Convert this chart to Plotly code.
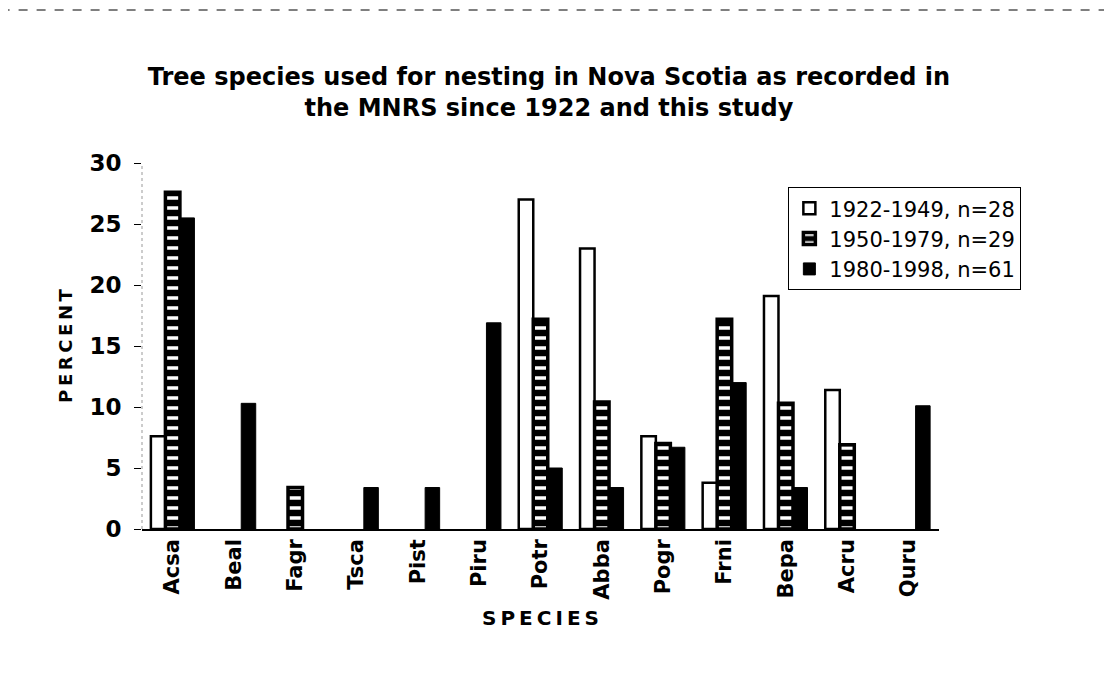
import plotly.graph_objects as go

species = ['Acsa', 'Beal', 'Fagr', 'Tsca', 'Pist', 'Piru', 'Potr', 'Abba',
           'Pogr', 'Frni', 'Bepa', 'Acru', 'Quru']
# None = species not recorded in that period (no bar drawn)
p1922 = [7.6, None, None, None, None, None, 27.0, 23.0, 7.6, 3.8, 19.1, 11.4, None]
p1950 = [27.6, None, 3.4, None, None, None, 17.2, 10.4, 7.0, 17.2, 10.3, 6.9, None]
p1980 = [25.5, 10.3, None, 3.4, 3.4, 16.9, 5.0, 3.4, 6.7, 12.0, 3.4, None, 10.1]
names = ['1922-1949, n=28', '1950-1979, n=29', '1980-1998, n=61']

font = 'DejaVu Sans, Verdana, sans-serif'
ts = '\u2009'

fig = go.Figure()

# open bars
fig.add_trace(go.Bar(
    x=species, y=p1922, name=names[0],
    marker=dict(color='white', line=dict(color='black', width=2.5)),
))
# striped bars
fig.add_trace(go.Bar(
    x=species, y=p1950, name=names[1],
    marker=dict(color='black', line=dict(color='black', width=3.5),
                pattern=dict(shape='-', bgcolor='black', fgcolor='white',
                             size=10, solidity=0.35, fillmode='replace')),
))
# solid bars
fig.add_trace(go.Bar(
    x=species, y=p1980, name=names[2],
    marker=dict(color='black', line=dict(color='black', width=1)),
))

# faint dotted y axis line, as in the scan
fig.add_shape(type='line', xref='paper', yref='paper', x0=0, x1=0,
              y0=0, y1=1, line=dict(color='#999', width=1, dash='dot'))
# scan border artefacts
fig.add_shape(type='line', xref='paper', yref='paper', x0=-0.2, x1=1.25,
              y0=1.418, y1=1.418, line=dict(color='#555', width=1.5, dash='dash'))
fig.add_shape(type='line', xref='paper', yref='paper', x0=-0.173, x1=-0.173,
              y0=-0.4, y1=1.38, line=dict(color='#aaa', width=1, dash='dot'))

fig.update_layout(
    width=1104, height=670,
    paper_bgcolor='white', plot_bgcolor='white',
    barmode='group', bargap=0.29, bargroupgap=0,
    margin=dict(l=134, r=173, t=155, b=149),
    font=dict(family=font, color='black'),
    title=dict(
        text='Tree species used for nesting in Nova Scotia as recorded in<br>the MNRS since 1922 and this study',
        x=0.49, xanchor='center', xref='container',
        y=0.885, yanchor='top', yref='container',
        font=dict(size=24, family=font, weight='bold'),
    ),
    legend=dict(
        x=0.811, y=0.934, xanchor='left', yanchor='top',
        bordercolor='black', borderwidth=1, bgcolor='white',
        font=dict(size=21, family=font),
        itemwidth=30, tracegroupgap=0,
    ),
    showlegend=True,
)

fig.update_xaxes(
    showline=True, linecolor='black', linewidth=1.5,
    tickangle=-90, ticks='',
    tickfont=dict(size=21, family=font, weight='bold'),
    title=dict(text=ts.join('SPECIES'), standoff=12,
               font=dict(size=20, family=font, weight='bold')),
)
fig.update_yaxes(
    range=[0, 30], dtick=5, showgrid=False, zeroline=False,
    showline=False,
    ticks='outside', ticklen=7, tickcolor='black', ticklabelstandoff=8,
    tickfont=dict(size=23, family=font, weight='bold'),
    title=dict(text=ts.join('PERCENT'), standoff=12,
               font=dict(size=18, family=font, weight='bold')),
)

fig.write_html('out.html')
